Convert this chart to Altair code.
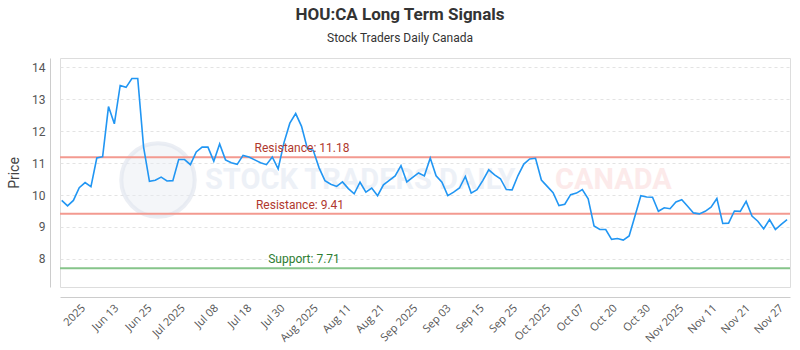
import altair as alt
import pandas as pd
import numpy as np

# ---- data ----
prices = [
    9.83, 9.66, 9.83, 10.23, 10.39, 10.26, 11.16, 11.20, 12.77, 12.23,
    13.43, 13.37, 13.65, 13.65, 11.50, 10.43, 10.46, 10.56, 10.44, 10.45,
    11.11, 11.11, 10.95, 11.35, 11.50, 11.50, 11.06, 11.60, 11.10, 11.01,
    10.96, 11.24, 11.19, 11.10, 11.01, 10.95, 11.19, 10.82, 11.64, 12.25,
    12.55, 12.15, 11.45, 11.40, 10.85, 10.45, 10.34, 10.27, 10.41, 10.20,
    10.04, 10.40, 10.09, 10.22, 9.98, 10.32, 10.46, 10.60, 10.92, 10.41,
    10.55, 10.69, 10.60, 11.16, 10.60, 10.40, 9.98, 10.09, 10.22, 10.58,
    10.06, 10.17, 10.46, 10.79, 10.63, 10.51, 10.17, 10.16, 10.61, 10.97,
    11.13, 11.15, 10.47, 10.27, 10.07, 9.67, 9.71, 10.01, 10.06, 10.17,
    9.88, 9.03, 8.92, 8.92, 8.61, 8.64, 8.59, 8.72, 9.34, 9.98,
    9.94, 9.93, 9.49, 9.60, 9.57, 9.78, 9.85, 9.65, 9.44, 9.41,
    9.49, 9.62, 9.89, 9.11, 9.12, 9.50, 9.49, 9.80, 9.34, 9.18,
    8.94, 9.23, 8.92, 9.08, 9.23,
]
tick_labels = [
    "2025", "Jun 13", "Jun 25", "Jul 2025", "Jul 08", "Jul 18", "Jul 30",
    "Aug 2025", "Aug 11", "Aug 21", "Sep 2025", "Sep 03", "Sep 15", "Sep 25",
    "Oct 2025", "Oct 07", "Oct 20", "Oct 30", "Nov 2025", "Nov 11", "Nov 21",
    "Nov 27",
]
y_ticks = [8, 9, 10, 11, 12, 13, 14]
level_names = ["Resistance: 11.18", "Resistance: 9.41", "Support: 7.71"]
level_values = [11.18, 9.41, 7.71]
level_line_colors = ["#f39a90", "#f39a90", "#86c48a"]
level_text_colors = ["#b0392e", "#b0392e", "#2e7d32"]

# ---- tables ----
df = pd.DataFrame({"i": np.arange(len(prices)), "price": prices})
levels = pd.DataFrame({"name": level_names, "value": level_values,
                       "lc": level_line_colors, "tc": level_text_colors,
                       "px": [242, 240, 244]})

n = len(prices)
tick_start, tick_end = 2.96, 122.3
tick_pos = list(np.linspace(tick_start, tick_end, len(tick_labels)))
step = (tick_end - tick_start) / (len(tick_labels) - 1)
label_arr = "[" + ",".join("'%s'" % t for t in tick_labels) + "]"
label_expr = f"{label_arr}[round((datum.value - {tick_start}) / {step})]"

FONT = "Roboto"
W, H = 730, 229

xscale = alt.Scale(domain=[-0.29, n - 1 + 0.5], nice=False, zero=False)
yscale = alt.Scale(domain=[7.12, 14.29], nice=False, zero=False)

x_axis = alt.Axis(values=tick_pos, labelExpr=label_expr, labelAngle=-45, grid=False,
                  ticks=False, offset=10, domainColor="#cccccc", labelColor="#555555",
                  labelFont="Open Sans", labelFontSize=11, labelPadding=5, title=None,
                  labelOverlap=False, labelFlush=False)
y_axis = alt.Axis(values=y_ticks, grid=True, gridDash=[3, 3],
                  gridColor="#e3e3e3", ticks=False, offset=10, domainColor="#cccccc",
                  labelColor="#555555", labelFont=FONT, labelFontSize=12, labelPadding=5,
                  labelOverlap=False, labelFlush=False,
                  title="Price", titleFont=FONT, titleFontSize=14, titleFontWeight="normal",
                  titleColor="#444444", titlePadding=10)

# watermark
wm = pd.DataFrame({"t": ["STOCK TRADERS DAILY", "CANADA"], "c": ["#dfe6f1", "#fbd9d9"],
                   "px": [145, 495]})
watermark = alt.Chart(wm).mark_text(font=FONT, fontSize=29,
                                    fontWeight="bold", align="left", baseline="middle",
                                    opacity=0.55).encode(
    x=alt.X("px:Q", scale=None), y=alt.value(122), text="t:N",
    color=alt.Color("c:N", scale=None)
)
logo = alt.Chart(pd.DataFrame({"a": [0]})).mark_point(
    shape="circle", filled=True, size=5400, color="#e6eaf2", opacity=0.45
).encode(x=alt.value(98), y=alt.value(122))
logo_ring = alt.Chart(pd.DataFrame({"a": [0]})).mark_point(
    shape="circle", filled=False, size=5400, color="#dfe4ee", strokeWidth=4, opacity=0.6
).encode(x=alt.value(98), y=alt.value(122))

line = alt.Chart(df).mark_line(color="#2196f3", strokeWidth=1.6).encode(
    x=alt.X("i:Q", scale=xscale, axis=x_axis),
    y=alt.Y("price:Q", scale=yscale, axis=y_axis),
)
rules = alt.Chart(levels).mark_rule(strokeWidth=2).encode(
    y=alt.Y("value:Q", scale=yscale, axis=y_axis),
    color=alt.Color("lc:N", scale=None),
)
texts = alt.Chart(levels).mark_text(font=FONT, fontSize=12, dy=-9, baseline="middle").encode(
    x=alt.X("px:Q", scale=None),
    y=alt.Y("value:Q", scale=yscale, axis=y_axis),
    text="name:N",
    color=alt.Color("tc:N", scale=None),
)

chart = alt.layer(logo, logo_ring, watermark, rules, line, texts).properties(
    width=W, height=H,
    title=alt.TitleParams("HOU:CA Long Term Signals", subtitle="Stock Traders Daily Canada",
                          font=FONT, fontSize=17, fontWeight="bold", color="#333333",
                          subtitleFont=FONT, subtitleFontSize=12, subtitleColor="#333333",
                          subtitlePadding=9, anchor="middle", dx=-25, offset=13),
    autosize=alt.AutoSizeParams(type="none"),
    padding={"left": 60, "top": 58, "right": 10, "bottom": 63},
).configure_view(stroke="#888888", strokeWidth=1).configure(background="white")

chart.save("out.html", embed_options={"renderer": "svg", "actions": False})
